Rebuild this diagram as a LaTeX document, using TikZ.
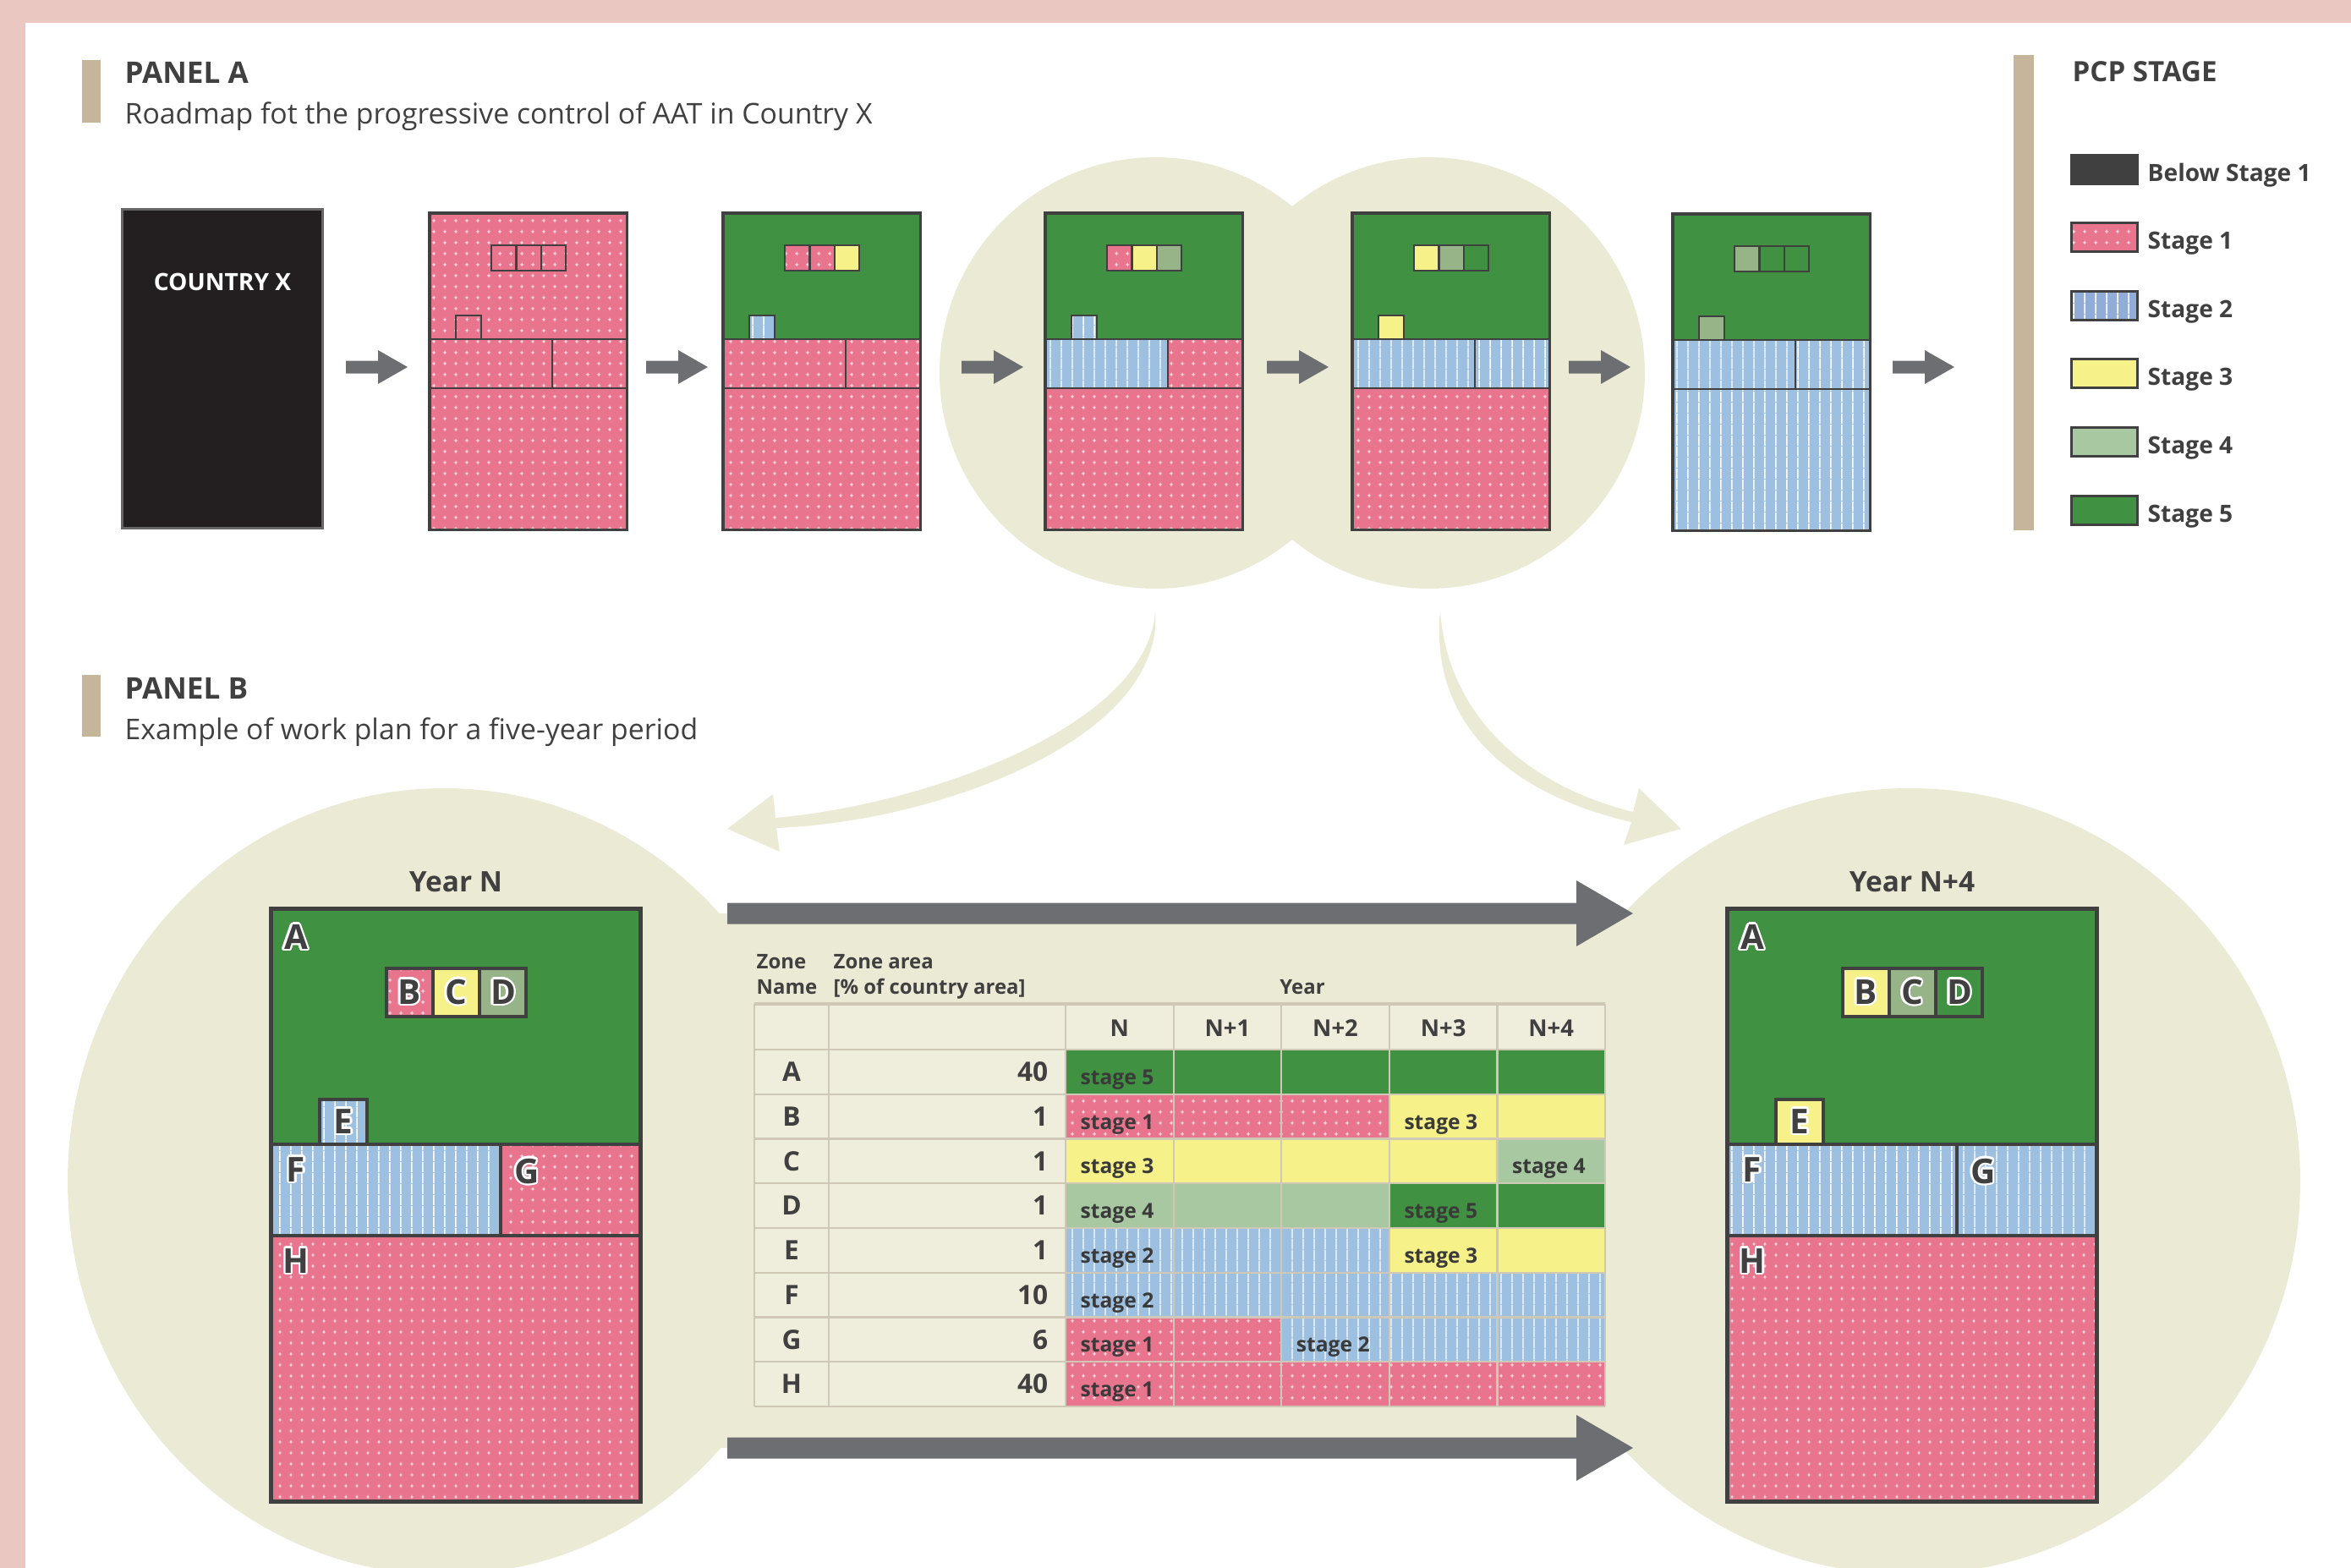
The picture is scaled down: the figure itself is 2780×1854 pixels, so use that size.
\documentclass[tikz,border=0pt]{standalone}
\usepackage{fontspec}
\setmainfont{Open Sans}
\usepackage[copies]{contour}
\contourlength{0.7pt}
\usetikzlibrary{positioning,patterns.meta}
\definecolor{bandpink}{RGB}{235,199,194}
\definecolor{barsand}{RGB}{196,181,155}
\definecolor{ink}{RGB}{64,64,64}
\definecolor{stagebelow}{RGB}{35,31,32}
\definecolor{stageone}{RGB}{232,116,142}
\definecolor{stageonedot}{RGB}{250,208,217}
\definecolor{stagetwo}{RGB}{157,191,224}
\definecolor{stagetwol}{RGB}{145,172,214}
\definecolor{stagethree}{RGB}{247,241,138}
\definecolor{stagefour}{RGB}{150,180,135}
\definecolor{stagefourt}{RGB}{168,200,161}
\definecolor{stagefive}{RGB}{64,145,65}
\definecolor{blob}{RGB}{235,234,213}
\definecolor{tablebg}{RGB}{239,238,221}
\definecolor{fwdgray}{RGB}{109,110,113}
\definecolor{gridsand}{RGB}{208,200,182}

\tikzdeclarepattern{name=pcpdots, type=uncolored,
  bottom left={(0pt,0pt)}, top right={(3.7pt,3.7pt)}, tile size={(3.7pt,3.7pt)},
  code={\fill (1.85pt,1.05pt) -- (2.2pt,1.85pt) -- (1.85pt,2.65pt) -- (1.5pt,1.85pt) -- cycle;
        \fill (1.2pt,1.72pt) rectangle (2.5pt,1.98pt);}}
\tikzdeclarepattern{name=pcplines, type=uncolored,
  bottom left={(0pt,0pt)}, top right={(3.7pt,3.7pt)}, tile size={(3.7pt,3.7pt)},
  code={\fill (1.6pt,0pt) rectangle (2.05pt,3.7pt);}}

% one country map: #1 scope options, #2..#9 = zones A..H
\newcommand{\zonemap}[9]{%
  \begin{scope}[#1]
    \path[#2] (0,0) rectangle (437,279);
    \path[#7] (0,279) rectangle (272,387);
    \path[#8] (272,279) rectangle (437,387);
    \path[#9] (0,387) rectangle (437,701);
    \path[#3] (137,71) rectangle (192,128);
    \path[#4] (192,71) rectangle (247,128);
    \path[#5] (247,71) rectangle (302,128);
    \path[#6] (58,226) rectangle (114,279);
    \draw[mapline] (0,279) -- (437,279) (0,387) -- (437,387) (272,279) -- (272,387)
      (137,71) rectangle (302,128) (192,71) -- (192,128) (247,71) -- (247,128)
      (58,279) |- (114,226) -- (114,279);
    \draw[mapframe] (0,0) rectangle (437,701);
  \end{scope}}

\begin{document}
\begin{tikzpicture}[x=0.01cm, y=-0.01cm,
   pcpbelow/.style={fill=ink},
   pcpone/.style={fill=stageone, postaction={pattern=pcpdots, pattern color=stageonedot}},
   pcptwo/.style={fill=stagetwo, postaction={pattern=pcplines, pattern color=white}},
   pcptwol/.style={fill=stagetwol, postaction={pattern=pcplines, pattern color=white}},
   pcpthree/.style={fill=stagethree},
   pcpfour/.style={fill=stagefour},
   pcpfourt/.style={fill=stagefourt},
   pcpfive/.style={fill=stagefive},
   mapline/.style={draw=ink, line width=0.035cm},
   mapframe/.style={draw=ink, line width=0.05cm},
   small map/.style={scale=0.534, mapline/.style={draw=ink, line width=0.022cm},
     mapframe/.style={draw=ink, line width=0.035cm}},
   fwd/.pic={\fill[fwdgray] (0,-7.5) -- (38,-7.5) -- (38,-20) -- (73,0) -- (38,20) -- (38,7.5) -- (0,7.5) -- cycle;},
   bigfwd/.pic={\fill[fwdgray] (0,-12.5) -- (1004,-12.5) -- (1004,-39) -- (1071,0) -- (1004,39) -- (1004,12.5) -- (0,12.5) -- cycle;},
   paneltitle/.style={font=\bfseries\fontsize{10}{12}\selectfont, text=ink, inner sep=0pt},
   panelsub/.style={font=\fontsize{9.6}{12}\selectfont, text=ink, inner sep=0pt},
   legtitle/.style={font=\bfseries\fontsize{9.4}{11}\selectfont, text=ink, inner sep=0pt},
   legtext/.style={font=\bfseries\fontsize{8}{9}\selectfont, text=ink, inner sep=0pt},
   yeartitle/.style={font=\bfseries\fontsize{9.5}{11}\selectfont, text=ink, inner sep=0pt},
   maplabel/.style={font=\bfseries\fontsize{11.5}{12}\selectfont, text=ink, inner sep=0pt},
   tabhead/.style={font=\bfseries\fontsize{6.8}{8}\selectfont, text=ink, inner sep=0pt},
   tabzone/.style={font=\bfseries\fontsize{9}{10}\selectfont, text=ink, inner sep=0pt},
   tabcol/.style={font=\bfseries\fontsize{7.8}{9}\selectfont, text=ink, inner sep=0pt},
   stagetxt/.style={font=\bfseries\fontsize{7}{8}\selectfont, text=ink!90!black, inner sep=0pt},
   gridline/.style={draw=gridsand, line width=0.022cm}]
  \useasboundingbox (0,0) rectangle (2780,1854);
  \clip (0,0) rectangle (2780,1854);
  \fill[bandpink] (0,0) rectangle (2780,27);
  \fill[bandpink] (0,0) rectangle (30,1854);

  % panel headings
  \fill[barsand] (97,71) rectangle (119,145);
  \node[paneltitle, anchor=base west] (pa) at (147,98) {PANEL A};
  \node[panelsub, anchor=base west] (pasub) at (147,146) {Roadmap fot the progressive control of AAT in Country X};
  \fill[barsand] (97,798) rectangle (119,871);
  \node[paneltitle, anchor=base west] (pb) at (147,826) {PANEL B};
  \node[panelsub, anchor=base west] (pbsub) at (147,874) {Example of work plan for a five-year period};

  % highlighted years and their zoom arrows
  \fill[blob] (1366,441) circle [radius=255] (1690,441) circle [radius=255];
  \fill[blob] (1366,722) .. controls (1378,875) and (1105,972) .. (918,979) -- (922,1007) -- (860,980)
    -- (914,939) -- (917,967) .. controls (1090,952) and (1358,860) .. (1366,722) -- cycle;
  \fill[blob] (1703,722) .. controls (1712,850) and (1810,930) .. (1931,960) -- (1938,932) -- (1988,980)
    -- (1920,999) -- (1929,972) .. controls (1790,940) and (1690,860) .. (1703,722) -- cycle;
  \fill[blob] (525,1397) ellipse [x radius=445, y radius=465] (2258,1397) ellipse [x radius=462, y radius=465];
  \fill[blob] (840,1080) rectangle (1940,1712);
  \pic (run1) at (860,1080) {bigfwd};
  \pic (run2) at (860,1712) {bigfwd};

  % roadmap (panel A)
  \node[fill=stagebelow, draw=ink!80, line width=0.03cm, minimum width=2.36cm, minimum height=3.76cm] (cx) at (263,436) {};
  \node[font=\bfseries\fontsize{8}{9}\selectfont, text=white, inner sep=0pt] (cxlabel) at (263,333) {COUNTRY X};
  \zonemap{shift={(508,252)}, small map}{pcpone}{pcpone}{pcpone}{pcpone}{pcpone}{pcpone}{pcpone}{pcpone}
  \zonemap{shift={(855,252)}, small map}{pcpfive}{pcpone}{pcpone}{pcpthree}{pcptwo}{pcpone}{pcpone}{pcpone}
  \zonemap{shift={(1236,252)}, small map}{pcpfive}{pcpone}{pcpthree}{pcpfour}{pcptwo}{pcptwo}{pcpone}{pcpone}
  \zonemap{shift={(1599,252)}, small map}{pcpfive}{pcpthree}{pcpfour}{pcpfive}{pcpthree}{pcptwo}{pcptwo}{pcpone}
  \zonemap{shift={(1978,253)}, small map}{pcpfive}{pcpfour}{pcpfive}{pcpfive}{pcpfour}{pcptwo}{pcptwo}{pcptwo}
  \foreach \x [count=\i] in {409,764,1137,1498,1855,2238}
    \pic (fwd\i) at (\x,434) {fwd};

  % legend
  \fill[barsand] (2381,65) rectangle (2405,627);
  \node[legtitle, anchor=base west] (legtitle) at (2450,96) {PCP STAGE};
  \foreach \st/\lab [count=\i] in {pcpbelow/Below Stage 1, pcpone/Stage 1, pcptwol/Stage 2,
      pcpthree/Stage 3, pcpfourt/Stage 4, pcpfive/Stage 5} {
    \path[\st] (2449,{183+80.6*(\i-1)}) rectangle ++(78,34);
    \draw[ink, line width=0.03cm] (2449,{183+80.6*(\i-1)}) rectangle ++(78,34);
    \node[legtext, anchor=base west] (leg\i) at (2539,{214+80.6*(\i-1)}) {\lab};
  }

  % work plan maps (panel B)
  \node[yeartitle] (yearN) at (539,1043) {Year N};
  \node[yeartitle] (yearNfour) at (2261,1043) {Year N+4};
  \zonemap{shift={(320,1074)}}{pcpfive}{pcpone}{pcpthree}{pcpfour}{pcptwo}{pcptwo}{pcpone}{pcpone}
  \zonemap{shift={(2042,1074)}}{pcpfive}{pcpthree}{pcpfour}{pcpfive}{pcpthree}{pcptwo}{pcptwo}{pcpone}
  \foreach \mx/\tag in {320/n, 2042/m}
    \foreach \z/\px/\py in {A/30/35, B/164/100, C/219/100, D/275/100, E/86/253, F/30/310, G/303/312, H/30/418}
      \node[maplabel] (\tag\z) at ({\mx+\px},{1074+\py}) {\contour{white}{\z}};

  % work plan table
  \node[tabhead, anchor=base west] (zhead) at (894,1145) {Zone};
  \node[tabhead, anchor=base west] (zhead2) at (894,1175) {Name};
  \node[tabhead, anchor=base west] (ahead) at (985,1145) {Zone area};
  \node[tabhead, anchor=base west] (ahead2) at (985,1175) {[\% of country area]};
  \node[tabhead, anchor=base] (yhead) at (1540,1175) {Year};
  \fill[tablebg] (892,1187) rectangle (1898,1663);
  \foreach \cells [count=\r] in {
      {pcpfive,pcpfive,pcpfive,pcpfive,pcpfive},
      {pcpone,pcpone,pcpone,pcpthree,pcpthree},
      {pcpthree,pcpthree,pcpthree,pcpthree,pcpfourt},
      {pcpfourt,pcpfourt,pcpfourt,pcpfive,pcpfive},
      {pcptwo,pcptwo,pcptwo,pcpthree,pcpthree},
      {pcptwo,pcptwo,pcptwo,pcptwo,pcptwo},
      {pcpone,pcpone,pcptwo,pcptwo,pcptwo},
      {pcpone,pcpone,pcpone,pcpone,pcpone}}
    \foreach \s [count=\c] in \cells
      \path[\s] ({1260+127.6*(\c-1)},{1241+52.75*(\r-1)}) rectangle ++(127.6,52.75);
  \draw[gridline, line width=0.035cm] (892,1187) -- (1898,1187);
  \foreach \k in {0,...,8}
    \draw[gridline] (892,{1241+52.75*\k}) -- (1898,{1241+52.75*\k});
  \foreach \x in {892,980,1260,1387.6,1515.2,1642.8,1770.4,1898}
    \draw[gridline] (\x,1187) -- (\x,1663);
  \foreach \h [count=\c] in {N,N+1,N+2,N+3,N+4}
    \node[tabcol] (col\c) at ({1260+127.6*(\c-0.5)},1216) {\h};
  \foreach \z/\a [count=\r] in {A/40,B/1,C/1,D/1,E/1,F/10,G/6,H/40} {
    \node[tabzone] (z\z) at (936,{1241+52.75*(\r-0.5)}) {\z};
    \node[tabzone, anchor=east] (v\z) at (1240,{1241+52.75*(\r-0.5)}) {\a};
  }
  \foreach \c/\r/\t in {1/1/stage 5, 1/2/stage 1, 4/2/stage 3, 1/3/stage 3, 5/3/stage 4,
      1/4/stage 4, 4/4/stage 5, 1/5/stage 2, 4/5/stage 3, 1/6/stage 2, 1/7/stage 1,
      3/7/stage 2, 1/8/stage 1}
    \node[stagetxt, anchor=base west] (st\c\r) at ({1260+127.6*(\c-1)+17},{1241+52.75*(\r-0.5)+15}) {\t};
\end{tikzpicture}
\end{document}
